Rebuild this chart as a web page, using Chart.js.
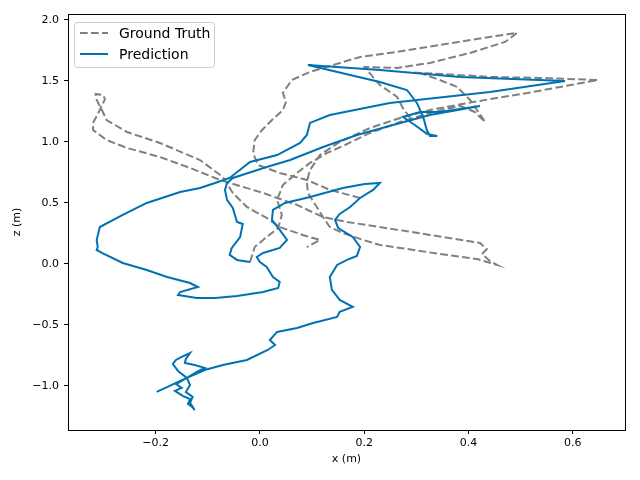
<!DOCTYPE html>
<html>
<head>
<meta charset="utf-8">
<script src="https://cdn.jsdelivr.net/npm/chart.js@4/dist/chart.umd.min.js"></script>
<style>
  body { margin: 0; background: #fff; }
  canvas { display: block; }
</style>
</head>
<body>
<canvas id="traj_chart" width="640" height="480"></canvas>
<script>
// trajectory values, x and z in metres (null = pen up)
const gt_x = [
  0.192, 0.134, 0.090, 0.038, -0.004, -0.013, -0.010, 0.004, 0.023, 0.044, 0.050, 0.044, 0.061, 0.096, 0.134, 0.192,
  0.263, 0.345, 0.441, 0.493, 0.470, 0.403, 0.326, 0.263, 0.201, 0.215, 0.230, 0.263, 0.274, 0.288,
  null,
  -0.019, -0.010, 0.013, 0.035, 0.042, 0.033, 0.044, 0.071, 0.096, 0.129, 0.163, 0.211, 0.269, 0.326, 0.384, 0.412,
  0.432, 0.403, 0.378, 0.345, 0.307, 0.351, 0.441, 0.537, 0.648, 0.524, 0.409, 0.326, 0.269, 0.211, 0.153, 0.115,
  0.096, 0.090, 0.092, 0.109, 0.121, 0.134, 0.159, 0.198, 0.230, 0.269, 0.345, 0.416, 0.455, 0.441, 0.426, 0.435,
  0.422, 0.326, 0.230, 0.167, 0.121, 0.071, 0.006, -0.077, -0.134, -0.192, -0.255, -0.294, -0.320, -0.320, -0.307,
  -0.297, -0.301, -0.315, -0.313, -0.303, -0.294, -0.255, -0.192, -0.115, -0.071, -0.052, -0.025, 0.013, 0.038, 0.082,
  0.115, 0.090
]
const gt_z = [
  0.541, 0.607, 0.689, 0.746, 0.812, 0.910, 1.016, 1.098, 1.180, 1.262, 1.328, 1.402, 1.508, 1.574, 1.623, 1.697,
  1.738, 1.795, 1.861, 1.894, 1.820, 1.730, 1.648, 1.607, 1.615, 1.541, 1.467, 1.369, 1.279, 1.197,
  null,
  0.016, 0.139, 0.221, 0.295, 0.402, 0.525, 0.648, 0.746, 0.828, 0.910, 0.975, 1.074, 1.164, 1.238, 1.295, 1.246,
  1.164, 1.344, 1.451, 1.508, 1.566, 1.557, 1.533, 1.525, 1.508, 1.410, 1.328, 1.262, 1.197, 1.115, 1.000, 0.893,
  0.770, 0.672, 0.582, 0.467, 0.385, 0.303, 0.254, 0.197, 0.156, 0.131, 0.082, 0.041, -0.008, 0.025, 0.082, 0.123,
  0.172, 0.238, 0.303, 0.344, 0.385, 0.484, 0.582, 0.689, 0.787, 0.877, 0.951, 1.016, 1.098, 1.156, 1.262,
  1.352, 1.385, 1.394, 1.344, 1.262, 1.180, 1.082, 0.992, 0.852, 0.713, 0.582, 0.467, 0.377, 0.303, 0.238,
  0.197, 0.139
]

const pred_x = [
  -0.198, -0.173, -0.153, -0.140, -0.161, -0.150, -0.163, -0.148, -0.134, -0.138, -0.130, -0.125, -0.134, -0.129,
  -0.142, -0.134, -0.140, -0.157, -0.167, -0.161, -0.150, -0.134, -0.142, -0.144, -0.125, -0.106, -0.121, -0.140,
  -0.106, -0.071, -0.025, 0.015, 0.029, 0.019, 0.033, 0.071, 0.102, 0.148, 0.153, 0.178, 0.153, 0.138, 0.134, 0.148,
  0.167, 0.186, 0.192, 0.178, 0.150, 0.144, 0.153, 0.173, 0.192, 0.217, 0.230, 0.201, 0.159, 0.096, 0.048, 0.025,
  0.023, 0.038, 0.052, 0.038, 0.006, -0.006, 0.000, 0.013, 0.025, 0.038, 0.035, 0.006, -0.044, -0.086, -0.121,
  -0.157, -0.153, -0.119, -0.134, -0.178, -0.217, -0.263, -0.303, -0.313, -0.311, -0.313, -0.307, -0.263, -0.217,
  -0.153, -0.115, -0.086, -0.058, -0.019, 0.033, 0.077, 0.090, 0.096, 0.134, 0.249, 0.441, 0.585, 0.384, 0.230,
  0.092, 0.173, 0.230, 0.282, 0.301, 0.313, 0.320, 0.326, 0.340, 0.320, 0.297, 0.274, 0.307, 0.345, 0.422, 0.326,
  0.269, 0.186, 0.121, 0.058, 0.013, -0.052, -0.063, -0.067, -0.063, -0.052, -0.044, -0.033, -0.038, -0.054,
  -0.058, -0.044, -0.019
]
const pred_z = [
  -1.049, -1.000, -0.959, -0.934, -0.984, -1.016, -1.041, -1.082, -1.107, -1.148, -1.172, -1.197, -1.139, -1.090,
  -1.049, -0.992, -0.934, -0.877, -0.820, -0.787, -0.762, -0.730, -0.779, -0.812, -0.828, -0.852, -0.885, -0.934,
  -0.869, -0.828, -0.787, -0.705, -0.664, -0.623, -0.557, -0.525, -0.484, -0.434, -0.393, -0.352, -0.295, -0.213,
  -0.107, -0.008, 0.033, 0.066, 0.139, 0.221, 0.295, 0.361, 0.410, 0.467, 0.541, 0.607, 0.664, 0.656, 0.623, 0.549,
  0.500, 0.443, 0.361, 0.279, 0.197, 0.131, 0.090, 0.057, 0.016, -0.025, -0.107, -0.148, -0.197, -0.230, -0.262,
  -0.279, -0.279, -0.254, -0.230, -0.189, -0.156, -0.107, -0.049, 0.008, 0.090, 0.115, 0.139, 0.197, 0.303, 0.402,
  0.500, 0.590, 0.623, 0.664, 0.705, 0.836, 0.893, 0.992, 1.057, 1.156, 1.221, 1.320, 1.410, 1.500, 1.533, 1.590,
  1.631, 1.549, 1.492, 1.426, 1.320, 1.205, 1.098, 1.049, 1.049, 1.066, 1.139, 1.205, 1.246, 1.246, 1.295, 1.221,
  1.156, 1.057, 0.959, 0.852, 0.795, 0.705, 0.664, 0.607, 0.525, 0.459, 0.344, 0.328, 0.221, 0.131,
  0.074, 0.033, 0.016
]

const x_ticks = [-0.2, 0.0, 0.2, 0.4, 0.6]
const z_ticks = [-1.0, -0.5, 0.0, 0.5, 1.0, 1.5, 2.0]

function to_points(xs, zs) {
  let pts = []
  for (let i = 0; i < xs.length; i++) {
    pts.push({ x: xs[i], y: zs[i] })
  }
  return pts
}

function fmt_tick(v) {
  return v.toFixed(1).replace("-", "\u2212")
}

const frame_plugin = {
  id: "frame",
  afterDatasetsDraw(chart) {
    let a = chart.chartArea, ctx = chart.ctx
    ctx.save()
    ctx.strokeStyle = "#000"
    ctx.lineWidth = 1
    ctx.strokeRect(Math.round(a.left) + 0.5, Math.round(a.top) + 0.5, Math.round(a.right - a.left), Math.round(a.bottom - a.top))
    ctx.restore()
  }
}

// matplotlib style legend box in the upper left corner
const legend_plugin = {
  id: "mpl_legend",
  afterDraw(chart) {
    let ctx = chart.ctx
    let a = chart.chartArea
    let bx = a.left + 6, by = a.top + 8, bw = 140, bh = 45
    ctx.save()
    ctx.beginPath()
    ctx.roundRect(bx + 0.5, by + 0.5, bw, bh, 3)
    ctx.fillStyle = "rgba(255,255,255,0.8)"
    ctx.fill()
    ctx.strokeStyle = "#cccccc"
    ctx.lineWidth = 1
    ctx.stroke()
    ctx.font = "14px 'DejaVu Sans'"
    ctx.textBaseline = "middle"
    chart.data.datasets.forEach((ds, i) => {
      let ly = by + 11 + i * 21
      ctx.beginPath()
      ctx.setLineDash(ds.borderDash || [])
      ctx.strokeStyle = ds.borderColor
      ctx.lineWidth = ds.borderWidth
      ctx.moveTo(bx + 6, ly)
      ctx.lineTo(bx + 34, ly)
      ctx.stroke()
      ctx.setLineDash([])
      ctx.fillStyle = "#000"
      ctx.fillText(ds.label, bx + 45, ly + 1)
    })
    ctx.restore()
  }
}

const ctx1 = document.getElementById("traj_chart").getContext("2d")

new Chart(ctx1, {
  type: "scatter",
  data: {
    datasets: [
      {
        label: "Ground Truth",
        data: to_points(gt_x, gt_z),
        showLine: true,
        borderColor: "#808080",
        borderWidth: 2,
        borderDash: [7.7, 3.3],
        pointRadius: 0,
        fill: false,
        spanGaps: false,
        order: 1
      },
      {
        label: "Prediction",
        data: to_points(pred_x, pred_z),
        showLine: true,
        borderColor: "#0072B2",
        borderWidth: 2,
        pointRadius: 0,
        fill: false,
        order: 0
      }
    ]
  },
  options: {
    responsive: false,
    animation: false,
    layout: { padding: { left: 0, right: 15, top: 14, bottom: 0 } },
    plugins: {
      legend: { display: false },
      tooltip: { enabled: false }
    },
    scales: {
      x: {
        type: "linear",
        min: -0.368,
        max: 0.700,
        afterBuildTicks: (scale) => { scale.ticks = x_ticks.map(v => ({ value: v })) },
        afterFit: (scale) => { scale.height = 50 },
        grid: { drawOnChartArea: false, drawTicks: true, tickLength: 4, color: "#000" },
        border: { display: false },
        ticks: {
          color: "#000",
          padding: 3,
          maxRotation: 0,
          font: { family: "DejaVu Sans", size: 11 },
          callback: (v) => fmt_tick(v)
        },
        title: {
          display: true,
          text: "x (m)",
          color: "#000",
          font: { family: "DejaVu Sans", size: 11 },
          padding: { top: 0, bottom: 14 }
        }
      },
      y: {
        type: "linear",
        min: -1.361,
        max: 2.049,
        afterBuildTicks: (scale) => { scale.ticks = z_ticks.map(v => ({ value: v })) },
        afterFit: (scale) => { scale.width = 68 },
        grid: { drawOnChartArea: false, drawTicks: true, tickLength: 4, color: "#000" },
        border: { display: false },
        ticks: {
          color: "#000",
          padding: 5,
          font: { family: "DejaVu Sans", size: 11 },
          callback: (v) => fmt_tick(v)
        },
        title: {
          display: true,
          text: "z (m)",
          color: "#000",
          font: { family: "DejaVu Sans", size: 11 },
          padding: { top: 11, bottom: 0 }
        }
      }
    }
  },
  plugins: [frame_plugin, legend_plugin]
})
</script>
</body>
</html>
